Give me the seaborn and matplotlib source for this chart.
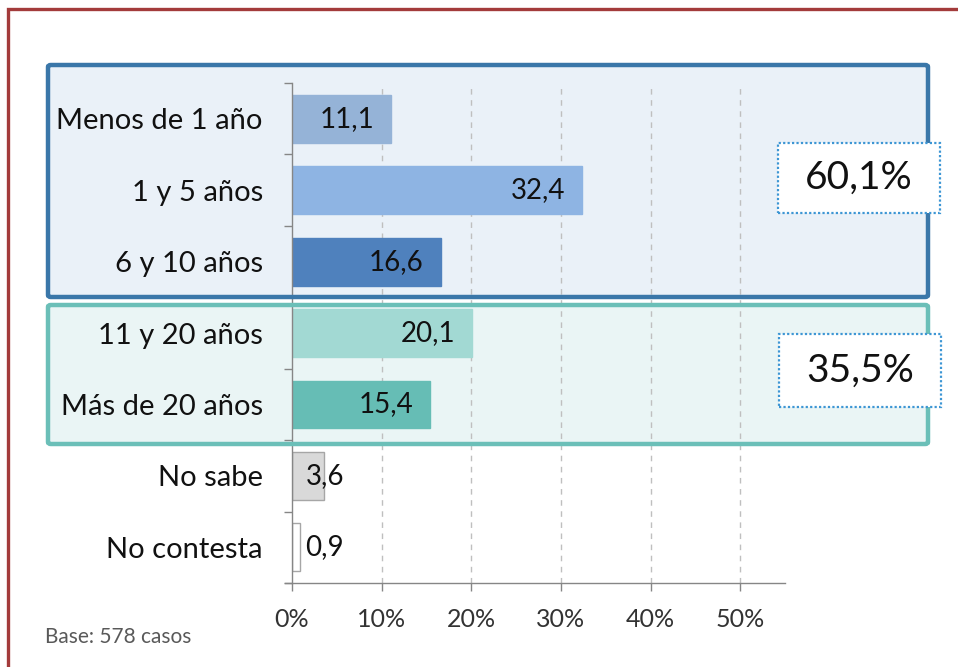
import pandas as pd
import seaborn as sns
import matplotlib.pyplot as plt
from matplotlib.patches import Rectangle, FancyBboxPatch

# Datos del gráfico
categorias = ['Menos de 1 año', '1 y 5 años', '6 y 10 años', '11 y 20 años',
              'Más de 20 años', 'No sabe', 'No contesta']
porcentajes = [11.1, 32.4, 16.6, 20.1, 15.4, 3.6, 0.9]
colores = ['#95B3D7', '#8EB4E3', '#4F81BD', '#A2D9D3', '#66BDB5', '#D9D9D9', '#FFFFFF']
bordes = ['#95B3D7', '#8EB4E3', '#4F81BD', '#A2D9D3', '#66BDB5', '#A6A6A6', '#A6A6A6']
ticks_x = [0, 10, 20, 30, 40, 50]
grupos = ['60,1%', '35,5%']
base = 'Base: 578 casos'

sns.set_theme(style='white')
plt.rcParams['font.family'] = ['Lato', 'DejaVu Sans']

dados = pd.DataFrame({'categoria': categorias, 'porcentaje': porcentajes})

fig = plt.figure(figsize=(9.58, 6.67), dpi=100)
fig.patch.set_facecolor('white')
ax = fig.add_axes([292 / 958, 1 - 583 / 667, (785 - 292) / 958, 500 / 667])
ax.set_facecolor('none')


def fx(px):
    return px / 958


def fy(py):
    return 1 - py / 667


# Marco rojo exterior
fig.patches.append(Rectangle((fx(8), -0.2), 1.2, fy(9) + 0.2, transform=fig.transFigure,
                             fill=False, edgecolor='#A33B3B', linewidth=2.4, zorder=-5))

# Cajas de grupos (relleno y borde)
cajas = [((48, 65, 928, 297), '#EAF1F8', '#3A77A9'),
         ((48, 305, 928, 444), '#EAF5F5', '#6BBFB8')]
for (x0, y0, x1, y1), relleno, borde in cajas:
    fig.patches.append(FancyBboxPatch((fx(x0), fy(y1)), fx(x1) - fx(x0), fy(y0) - fy(y1),
                                      boxstyle='round,pad=0,rounding_size=0.003',
                                      transform=fig.transFigure, facecolor=relleno,
                                      edgecolor='none', zorder=-4))
    fig.patches.append(FancyBboxPatch((fx(x0), fy(y1)), fx(x1) - fx(x0), fy(y0) - fy(y1),
                                      boxstyle='round,pad=0,rounding_size=0.003',
                                      transform=fig.transFigure, facecolor='none',
                                      edgecolor=borde, linewidth=3.2, zorder=2))

sns.barplot(data=dados, x='porcentaje', y='categoria', hue='categoria',
            palette=colores, saturation=1, orient='h', width=0.67, dodge=False,
            legend=False, ax=ax, zorder=2)
for barra, borde in zip(ax.patches, bordes):
    barra.set_edgecolor(borde)
    barra.set_linewidth(1.0)

# Etiquetas de valor
for i, v in enumerate(porcentajes):
    texto = f'{v:.1f}'.replace('.', ',')
    if v < 5:
        ax.text(1.5, i, texto, ha='left', va='center', fontsize=20, color='#111111', zorder=3)
    else:
        ax.text(v - 1.9, i, texto, ha='right', va='center', fontsize=20, color='#111111', zorder=3)

ax.set_xlim(0, 55)
ax.set_ylim(6.5, -0.5)
ax.set_xticks(ticks_x)
ax.set_xticklabels([f'{t}%' for t in ticks_x], fontsize=18, color='#333333')
ax.set_yticks(range(len(categorias)))
ax.set_yticklabels(categorias, fontsize=21, color='#111111')
ax.set_yticks([i + 0.5 for i in range(-1, len(categorias))], minor=True)
ax.set_xlabel('')
ax.set_ylabel('')

for t in ticks_x[1:]:
    ax.axvline(t, color='#BFBFBF', linestyle=(0, (4, 4)), linewidth=1.0, zorder=1)

for lado in ['top', 'right']:
    ax.spines[lado].set_visible(False)
for lado in ['left', 'bottom']:
    ax.spines[lado].set_color('#868686')
    ax.spines[lado].set_linewidth(1.0)
ax.spines['bottom'].set_bounds(-0.8, 55)

ax.tick_params(axis='y', which='major', length=0, pad=21)
ax.tick_params(axis='y', which='minor', length=6, color='#868686', width=1.0, left=True)
ax.tick_params(axis='x', which='major', length=6, color='#868686', width=1.0, pad=12, bottom=True)

# Cajas de totales punteadas
totales = [((778, 143, 940, 213), grupos[0]), ((779, 334, 941, 407), grupos[1])]
for (x0, y0, x1, y1), texto in totales:
    fig.patches.append(Rectangle((fx(x0), fy(y1)), fx(x1) - fx(x0), fy(y0) - fy(y1),
                                 transform=fig.transFigure, facecolor='white',
                                 edgecolor='#3D96D4', linewidth=1.6, linestyle=(0, (1, 1)),
                                 zorder=3))
    fig.text(fx((x0 + x1) / 2), fy((y0 + y1) / 2), texto, ha='center', va='center',
             fontsize=28, color='#111111', zorder=4)

fig.text(fx(45), fy(637), base, ha='left', va='center', fontsize=15, color='#595959')

fig.savefig('out.png', dpi=100)
